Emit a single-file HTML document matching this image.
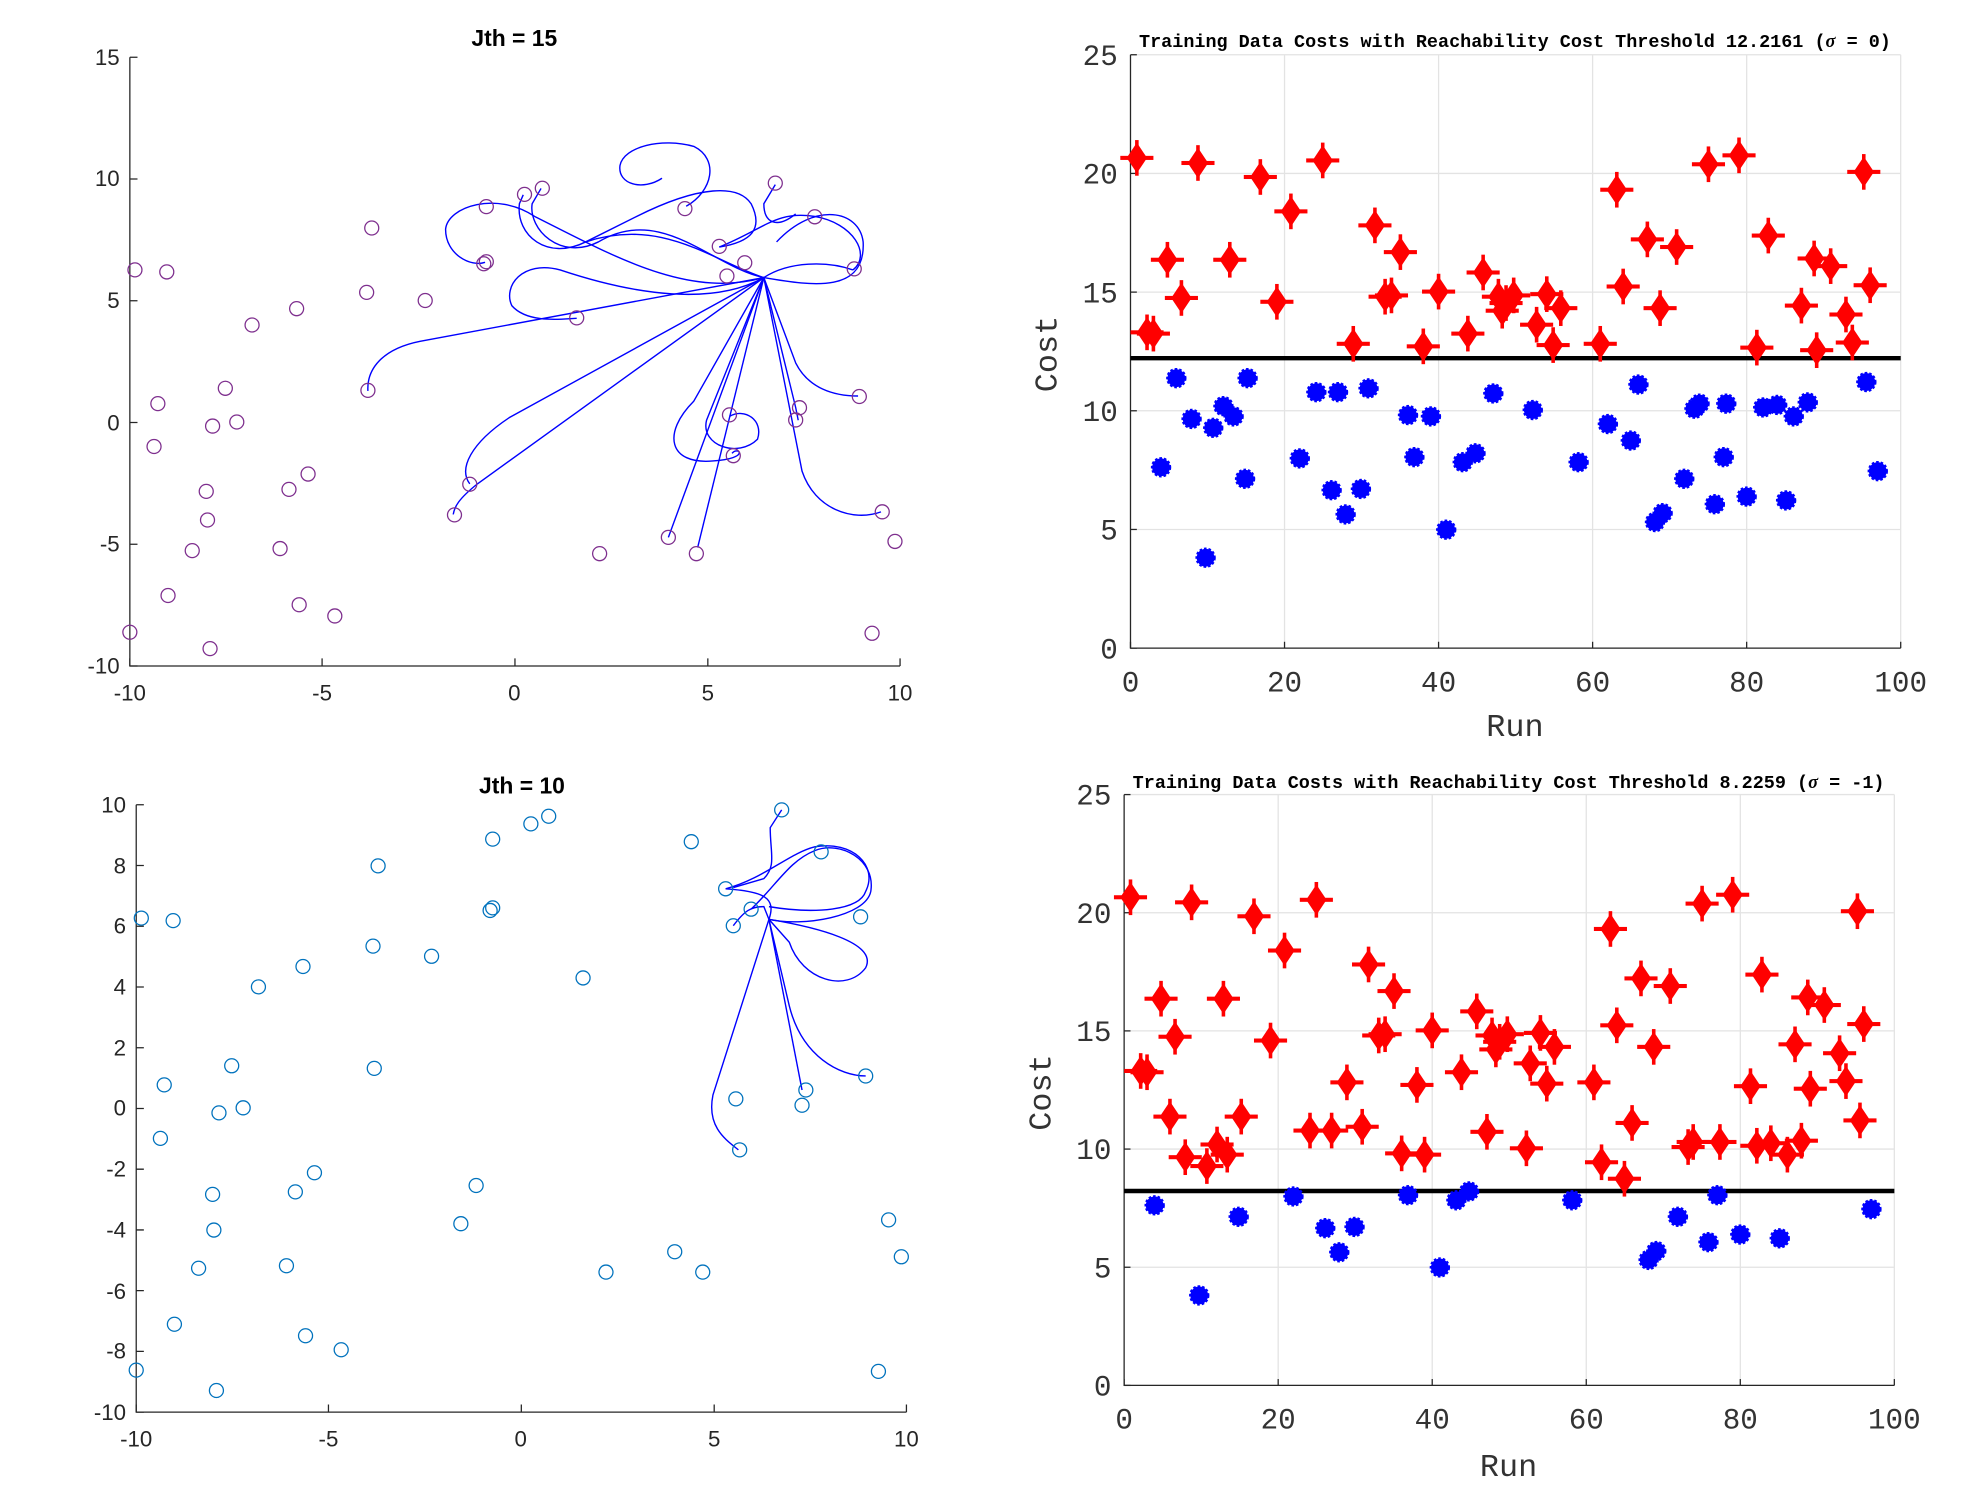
<!DOCTYPE html>
<html><head><meta charset="utf-8"><style>
html,body{margin:0;padding:0;background:#fff;}
svg{display:block;}
.tl{font-family:"Liberation Sans",Arial,sans-serif;font-size:17.5px;fill:#262626;}
.tm{font-family:"Liberation Mono",monospace;font-size:23px;fill:#333;}
.tl2{font-family:"Liberation Mono",monospace;font-size:25px;fill:#333;}
.tt{font-family:"Liberation Mono",monospace;font-size:14.5px;font-weight:bold;fill:#000;}
.ttl{font-family:"Liberation Sans",Arial,sans-serif;font-size:18px;font-weight:bold;fill:#000;}
</style></head><body>
<svg id="s" width="1986" height="1486" viewBox="0 0 1560 1167" preserveAspectRatio="none" xmlns="http://www.w3.org/2000/svg">
<rect width="1560" height="1167" fill="#fff"/>
<text class="ttl" x="404" y="36" text-anchor="middle">Jth = 15</text>
<g stroke="#262626" stroke-width="1" fill="none">
<path d="M102,45 V523 H707"/>
<path d="M102,45h6M102,140.6h6M102,236.2h6M102,331.8h6M102,427.4h6M102,523h6"/>
<path d="M102,523v-6M253,523v-6M404.5,523v-6M556,523v-6M707,523v-6"/>
</g>
<g class="tl" text-anchor="end">
<text x="94" y="51">15</text><text x="94" y="146">10</text><text x="94" y="242">5</text><text x="94" y="338">0</text><text x="94" y="433">-5</text><text x="94" y="529">-10</text>
</g>
<g class="tl" text-anchor="middle">
<text x="102" y="550">-10</text><text x="253" y="550">-5</text><text x="404" y="550">0</text><text x="556" y="550">5</text><text x="707" y="550">10</text>
</g>
<g stroke="#0000ff" stroke-width="1.1" fill="none">
<path d="M600,218 L330,268 C300,274 288,290 289,307"/>
<path d="M600,218 L375,380 C360,392 357,398 356,404"/>
<path d="M600,218 L400,328 C370,348 360,368 369,380"/>
<path d="M600,218 C560,240 500,232 440,212 C410,204 395,225 402,240 C415,255 445,250 453,250"/>
<path d="M600,218 C540,235 480,200 420,170 C390,150 352,162 350,180 C350,200 370,210 381,206"/>
<path d="M600,218 C560,205 520,170 460,190 C430,205 405,185 408,160 L411,153"/>
<path d="M600,218 C560,210 520,160 470,190 C440,205 415,180 418,160 L425,148"/>
<path d="M565,194 C590,190 600,180 590,160 C580,145 550,145 500,170 L460,190"/>
<path d="M539,162 C560,150 565,125 545,115 C520,108 490,115 487,130 C485,145 505,150 520,140"/>
<path d="M600,218 C620,205 650,205 670,212"/>
<path d="M600,218 C640,225 680,230 678,190 C675,165 640,158 610,190"/>
<path d="M565,194 C600,180 610,165 640,170 C670,175 685,200 670,212"/>
<path d="M609,145 L600,160 C600,175 610,180 625,168"/>
<path d="M600,218 L525,422"/>
<path d="M600,218 L548,430"/>
<path d="M600,218 L555,330 C550,350 580,360 595,345 C600,330 585,320 573,327"/>
<path d="M600,218 L545,315 C520,340 525,365 560,362 C590,360 580,350 575,356"/>
<path d="M600,218 L625,285 C635,305 655,311 674,311"/>
<path d="M600,218 L630,370 C640,400 670,410 692,402"/>
<path d="M600,218 L625,320 L627,330"/>
</g>
<text class="ttl" x="410" y="623" text-anchor="middle">Jth = 10</text>
<g stroke="#262626" stroke-width="1" fill="none">
<path d="M107,632 V1109 H712"/>
<path d="M107,632h6M107,679.7h6M107,727.4h6M107,775.1h6M107,822.8h6M107,870.5h6M107,918.2h6M107,965.9h6M107,1013.6h6M107,1061.3h6M107,1109h6"/>
<path d="M107,1109v-6M258,1109v-6M409.5,1109v-6M561,1109v-6M712,1109v-6"/>
</g>
<g class="tl" text-anchor="end">
<text x="99" y="638">10</text><text x="99" y="686">8</text><text x="99" y="733">6</text><text x="99" y="781">4</text><text x="99" y="829">2</text><text x="99" y="876">0</text><text x="99" y="924">-2</text><text x="99" y="972">-4</text><text x="99" y="1020">-6</text><text x="99" y="1067">-8</text><text x="99" y="1115">-10</text>
</g>
<g class="tl" text-anchor="middle">
<text x="107" y="1136">-10</text><text x="258" y="1136">-5</text><text x="409" y="1136">0</text><text x="561" y="1136">5</text><text x="712" y="1136">10</text>
</g>
<g stroke="#0000ff" stroke-width="1.1" fill="none">
<path d="M604,722 L560,860 C555,885 570,895 580,903"/>
<path d="M604,722 L620,790 C630,830 660,845 680,845"/>
<path d="M604,722 L630,856"/>
<path d="M570,698 C600,700 610,705 604,722"/>
<path d="M604,722 C630,728 680,720 684,700 C688,675 660,660 640,668 C620,676 610,695 590,714"/>
<path d="M570,698 C600,690 620,670 640,665 C670,660 690,680 680,700 C675,715 640,718 604,712"/>
<path d="M604,722 C640,728 690,740 680,760 C665,780 630,770 620,740 L604,722"/>
<path d="M614,636 L605,650 C605,670 610,680 600,690 L576,697"/>
<path d="M604,722 L600,712 C590,712 585,715 576,727"/>
</g>
<g id="tr"></g>
<text class="tt" x="1190" y="37" text-anchor="middle">Training Data Costs with Reachability Cost Threshold 12.2161 (<tspan font-style="italic" font-family="Liberation Serif">σ</tspan> = 0)</text>
<text class="tl2" x="1190" y="578" text-anchor="middle">Run</text>
<text class="tl2" transform="translate(830,278) rotate(-90)" text-anchor="middle">Cost</text>
<g id="br"></g>
<text class="tt" x="1185" y="619" text-anchor="middle">Training Data Costs with Reachability Cost Threshold 8.2259 (<tspan font-style="italic" font-family="Liberation Serif">σ</tspan> = -1)</text>
<text class="tl2" x="1185" y="1159" text-anchor="middle">Run</text>
<text class="tl2" transform="translate(825,858) rotate(-90)" text-anchor="middle">Cost</text>
<g id="pts"></g>
</svg>
<script>
var NS="http://www.w3.org/2000/svg";
function el(p,t,a){var e=document.createElementNS(NS,t);for(var k in a)e.setAttribute(k,a[k]);p.appendChild(e);return e;}
var pts=[[111,721],[136,723],[297,680],[203,775],[238,759],[293,743],[339,751],[387,659],[417,647],[431,641],[385,715],[387,713],[458,768],[182,837],[129,852],[172,874],[191,870],[126,894],[294,839],[167,938],[168,966],[232,936],[247,921],[374,931],[362,961],[156,996],[225,994],[137,1040],[240,1049],[268,1060],[170,1092],[107,1076],[476,999],[530,983],[552,999],[543,661],[570,698],[576,727],[590,714],[614,636],[645,669],[676,720],[680,845],[578,863],[581,903],[633,856],[630,868],[698,958],[708,987],[690,1077]];
var g=document.getElementById('pts');
pts.forEach(function(p){
 var x=(p[0]-107)/30.25-10, y=10-(p[1]-632)/23.85;
 el(g,'circle',{cx:p[0],cy:p[1],r:5.5,fill:'none',stroke:'#0072bd','stroke-width':1});
 el(g,'circle',{cx:102+(x+10)*30.25,cy:45+(15-y)*19.12,r:5.5,fill:'none',stroke:'#7e2f8e','stroke-width':1});
});
var red=[[893,124],[901,261],[906,262],[917,204],[928,234],[941,128],[966,204],[990,139],[980,297],[1003,237],[1014,166],[1039,126],[1063,270],[1075,305],[1080,177],[1088,233],[1093,232],[1100,198],[1118,272],[1130,229],[1153,262],[1165,214],[1177,233],[1180,244],[1183,238],[1189,232],[1207,255],[1215,231],[1220,271],[1226,242],[1257,270],[1270,149],[1275,225],[1294,188],[1304,242],[1317,194],[1342,129],[1366,122],[1389,185],[1415,240],[1425,203],[1427,275],[1438,209],[1450,247],[1455,269],[1464,135],[1466,300],[1469,224]];
var blue=[[912,367],[924,297],[936,329],[947,438],[953,336],[961,319],[969,327],[978,376],[1021,360],[1034,308],[1046,385],[1051,308],[1057,404],[1069,384],[1106,326],[1111,359],[1124,327],[1136,416],[1149,363],[1159,356],[1173,309],[1204,322],[1240,363],[1263,333],[1281,346],[1287,302],[1300,410],[1306,403],[1323,376],[1331,321],[1335,317],[1347,396],[1354,359],[1356,317],[1372,390],[1380,273],[1385,320],[1396,318],[1409,327],[1403,393],[1420,316],[1475,370]];
var data=[];
red.concat(blue).forEach(function(p){data.push([(p[0]-888)/6.05,(509-p[1])/18.64]);});
function panel(id,x0,x1,y0,y1,th){
 var G=document.getElementById(id);
 var sx=(x1-x0)/100, sy=(y0-y1)/25;
 function X(v){return x0+v*sx;} function Y(v){return y0-v*sy;}
 for(var i=0;i<=5;i++){
  el(G,'line',{x1:X(i*20),x2:X(i*20),y1:y0,y2:y1,stroke:'#e3e3e3','stroke-width':1});
  el(G,'line',{x1:x0,x2:x1,y1:Y(i*5),y2:Y(i*5),stroke:'#e3e3e3','stroke-width':1});
  var t=el(G,'text',{x:X(i*20),y:y0+34,'class':'tm','text-anchor':'middle'});t.textContent=String(i*20);
  var t2=el(G,'text',{x:x0-10,y:Y(i*5)+8,'class':'tm','text-anchor':'end'});t2.textContent=String(i*5);
  el(G,'line',{x1:X(i*20),x2:X(i*20),y1:y0,y2:y0-5,stroke:'#262626'});
  el(G,'line',{x1:x0,x2:x0+5,y1:Y(i*5),y2:Y(i*5),stroke:'#262626'});
 }
 el(G,'path',{d:'M'+x0+','+y1+'V'+y0+'H'+x1,stroke:'#262626',fill:'none','stroke-width':1});
 el(G,'line',{x1:x0,x2:x1,y1:Y(th),y2:Y(th),stroke:'#000','stroke-width':3.5});
 data.forEach(function(d){
  var px=X(d[0]),py=Y(d[1]);
  if(d[1]>th){
   el(G,'polygon',{points:(px-8)+','+py+' '+px+','+(py-12)+' '+(px+8)+','+py+' '+px+','+(py+12),fill:'#ff0000'});
   el(G,'rect',{x:px-13,y:py-1.6,width:26,height:3.2,fill:'#ff0000'});
   el(G,'rect',{x:px-1.4,y:py-14,width:2.8,height:28,fill:'#ff0000'});
  } else {
   el(G,'circle',{cx:px,cy:py,r:7,fill:'#0000ff',stroke:'#0000ff','stroke-width':2,'stroke-dasharray':'2 1.5'});
  }
 });
}
panel('tr',888,1493,509,43,12.2161);
panel('br',883,1488,1088,624,8.2259);
</script>
</body></html>
